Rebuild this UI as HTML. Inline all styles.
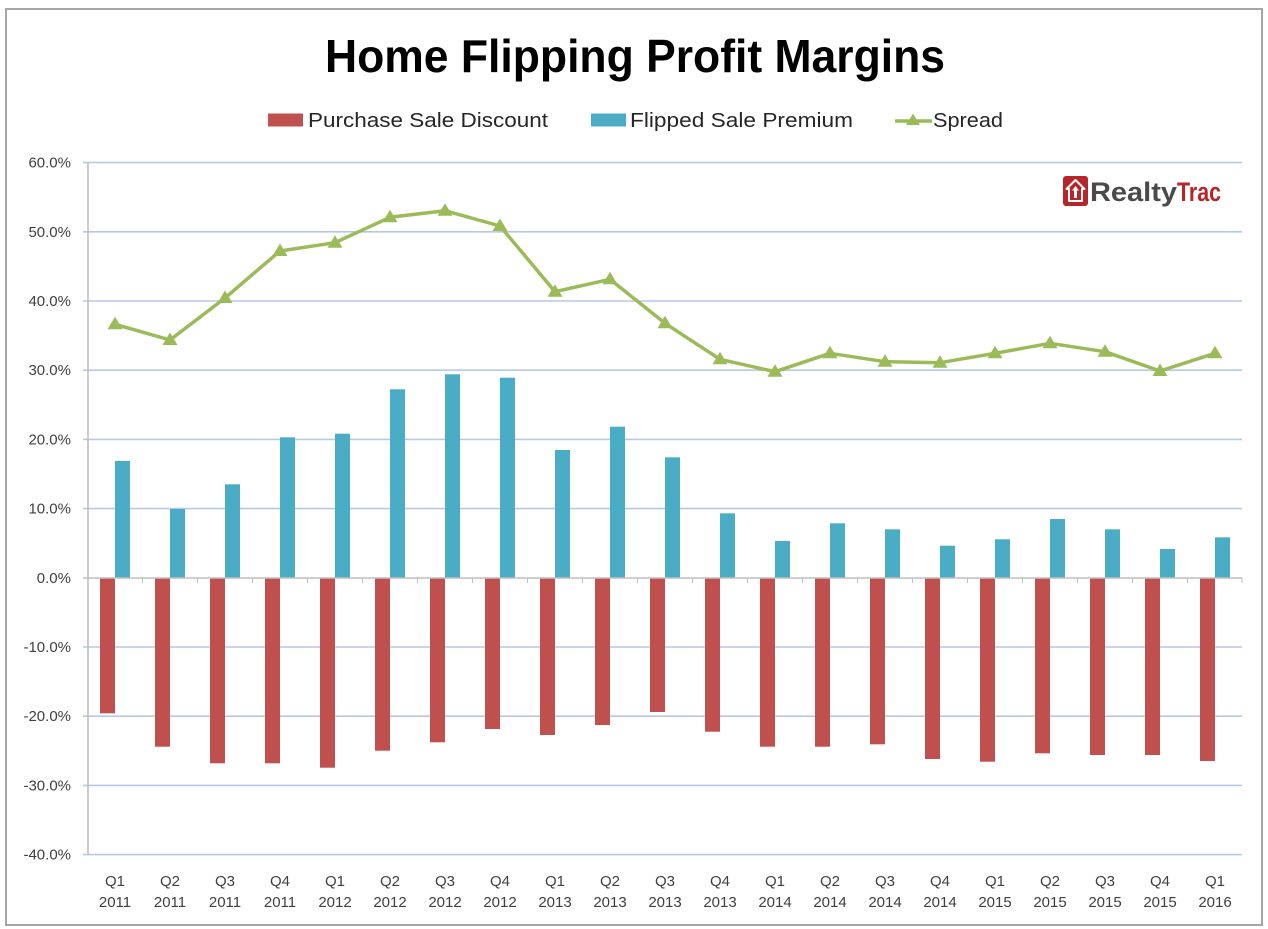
<!DOCTYPE html>
<html>
<head>
<meta charset="utf-8">
<style>
  html,body{margin:0;padding:0;background:#fff;}
  svg{display:block;}
  text{font-family:"Liberation Sans",Arial,sans-serif;}
</style>
</head>
<body>
<svg width="1268" height="929" viewBox="0 0 1268 929" xmlns="http://www.w3.org/2000/svg">
  <defs>
    <marker id="tri" markerWidth="16" markerHeight="16" refX="8" refY="8.5" markerUnits="userSpaceOnUse">
      <path d="M8,1 L15.5,13.5 L0.5,13.5 Z" fill="#9bbb59"/>
    </marker>
  </defs>
  <rect x="0" y="0" width="1268" height="929" fill="#fff"/>
  <!-- outer border -->
  <rect x="6" y="9" width="1256" height="916" fill="none" stroke="#a6a6a6" stroke-width="2"/>

  <!-- title -->
  <text x="635" y="72" text-anchor="middle" font-size="46" font-weight="bold" fill="#000" textLength="620" lengthAdjust="spacingAndGlyphs">Home Flipping Profit Margins</text>

  <!-- legend -->
  <rect x="268" y="113.5" width="35" height="13" fill="#c0504d"/>
  <text x="308" y="127" font-size="20" fill="#262626" textLength="240" lengthAdjust="spacingAndGlyphs">Purchase Sale Discount</text>
  <rect x="591" y="113.5" width="35" height="13" fill="#4bacc6"/>
  <text x="630" y="127" font-size="20" fill="#262626" textLength="223" lengthAdjust="spacingAndGlyphs">Flipped Sale Premium</text>
  <line x1="895" y1="121" x2="932" y2="121" stroke="#9bbb59" stroke-width="3.5"/>
  <path d="M913,113.5 L920,125 L906,125 Z" fill="#9bbb59"/>
  <text x="933" y="127" font-size="20" fill="#262626" textLength="70" lengthAdjust="spacingAndGlyphs">Spread</text>

  <!-- gridlines -->
  <g stroke="#b7c8e8" stroke-width="1.6">
    <line x1="83" y1="162.6" x2="1242" y2="162.6"/>
    <line x1="83" y1="231.8" x2="1242" y2="231.8"/>
    <line x1="83" y1="301" x2="1242" y2="301"/>
    <line x1="83" y1="370.2" x2="1242" y2="370.2"/>
    <line x1="83" y1="439.4" x2="1242" y2="439.4"/>
    <line x1="83" y1="508.6" x2="1242" y2="508.6"/>
    <line x1="83" y1="647" x2="1242" y2="647"/>
    <line x1="83" y1="716.2" x2="1242" y2="716.2"/>
    <line x1="83" y1="785.4" x2="1242" y2="785.4"/>
    <line x1="83" y1="854.6" x2="1242" y2="854.6"/>
  </g>

  <!-- y axis labels -->
  <g font-size="15" fill="#404040" text-anchor="end">
    <text x="71" y="167.6">60.0%</text>
    <text x="71" y="236.8">50.0%</text>
    <text x="71" y="306">40.0%</text>
    <text x="71" y="375.2">30.0%</text>
    <text x="71" y="444.4">20.0%</text>
    <text x="71" y="513.6">10.0%</text>
    <text x="71" y="582.8">0.0%</text>
    <text x="71" y="652">-10.0%</text>
    <text x="71" y="721.2">-20.0%</text>
    <text x="71" y="790.4">-30.0%</text>
    <text x="71" y="859.6">-40.0%</text>
  </g>

  <!-- blue bars -->
  <g fill="#4bacc6">
    <rect x="115" y="461" width="15" height="117"/>
    <rect x="170" y="509" width="15" height="69"/>
    <rect x="225" y="484.3" width="15" height="93.7"/>
    <rect x="280" y="437.3" width="15" height="140.7"/>
    <rect x="335" y="433.7" width="15" height="144.3"/>
    <rect x="390" y="389.3" width="15" height="188.7"/>
    <rect x="445" y="374.3" width="15" height="203.7"/>
    <rect x="500" y="377.7" width="15" height="200.3"/>
    <rect x="555" y="450" width="15" height="128"/>
    <rect x="610" y="426.7" width="15" height="151.3"/>
    <rect x="665" y="457.3" width="15" height="120.7"/>
    <rect x="720" y="513.3" width="15" height="64.7"/>
    <rect x="775" y="541" width="15" height="37"/>
    <rect x="830" y="523.3" width="15" height="54.7"/>
    <rect x="885" y="529.3" width="15" height="48.7"/>
    <rect x="940" y="545.7" width="15" height="32.3"/>
    <rect x="995" y="539.3" width="15" height="38.7"/>
    <rect x="1050" y="519" width="15" height="59"/>
    <rect x="1105" y="529.3" width="15" height="48.7"/>
    <rect x="1160" y="549" width="15" height="29"/>
    <rect x="1215" y="537.3" width="15" height="40.7"/>
  </g>

  <!-- red bars -->
  <g fill="#c0504d">
    <rect x="100" y="578" width="15" height="135.3"/>
    <rect x="155" y="578" width="15" height="168.7"/>
    <rect x="210" y="578" width="15" height="185.3"/>
    <rect x="265" y="578" width="15" height="185.3"/>
    <rect x="320" y="578" width="15" height="189.7"/>
    <rect x="375" y="578" width="15" height="172.7"/>
    <rect x="430" y="578" width="15" height="164.3"/>
    <rect x="485" y="578" width="15" height="151"/>
    <rect x="540" y="578" width="15" height="157"/>
    <rect x="595" y="578" width="15" height="147"/>
    <rect x="650" y="578" width="15" height="134"/>
    <rect x="705" y="578" width="15" height="153.7"/>
    <rect x="760" y="578" width="15" height="168.7"/>
    <rect x="815" y="578" width="15" height="168.7"/>
    <rect x="870" y="578" width="15" height="166.3"/>
    <rect x="925" y="578" width="15" height="181"/>
    <rect x="980" y="578" width="15" height="183.7"/>
    <rect x="1035" y="578" width="15" height="175.3"/>
    <rect x="1090" y="578" width="15" height="177"/>
    <rect x="1145" y="578" width="15" height="177"/>
    <rect x="1200" y="578" width="15" height="183"/>
  </g>

  <!-- axes -->
  <line x1="88" y1="162" x2="88" y2="855" stroke="#bfbfbf" stroke-width="1.6"/>
  <line x1="83" y1="578" x2="1242.5" y2="578" stroke="#bfbfbf" stroke-width="1.6"/>
  <g stroke="#bfbfbf" stroke-width="1">
    <line x1="142.5" y1="578" x2="142.5" y2="583"/>
    <line x1="197.5" y1="578" x2="197.5" y2="583"/>
    <line x1="252.5" y1="578" x2="252.5" y2="583"/>
    <line x1="307.5" y1="578" x2="307.5" y2="583"/>
    <line x1="362.5" y1="578" x2="362.5" y2="583"/>
    <line x1="417.5" y1="578" x2="417.5" y2="583"/>
    <line x1="472.5" y1="578" x2="472.5" y2="583"/>
    <line x1="527.5" y1="578" x2="527.5" y2="583"/>
    <line x1="582.5" y1="578" x2="582.5" y2="583"/>
    <line x1="637.5" y1="578" x2="637.5" y2="583"/>
    <line x1="692.5" y1="578" x2="692.5" y2="583"/>
    <line x1="747.5" y1="578" x2="747.5" y2="583"/>
    <line x1="802.5" y1="578" x2="802.5" y2="583"/>
    <line x1="857.5" y1="578" x2="857.5" y2="583"/>
    <line x1="912.5" y1="578" x2="912.5" y2="583"/>
    <line x1="967.5" y1="578" x2="967.5" y2="583"/>
    <line x1="1022.5" y1="578" x2="1022.5" y2="583"/>
    <line x1="1077.5" y1="578" x2="1077.5" y2="583"/>
    <line x1="1132.5" y1="578" x2="1132.5" y2="583"/>
    <line x1="1187.5" y1="578" x2="1187.5" y2="583"/>
    <line x1="1242" y1="578" x2="1242" y2="583"/>
  </g>

  <!-- spread line -->
  <polyline fill="none" stroke="#9bbb59" stroke-width="3.5" stroke-linejoin="round"
    marker-start="url(#tri)" marker-mid="url(#tri)" marker-end="url(#tri)"
    points="115,324.3 170,340 225,298 280,251 335,242.7 390,217.3 445,210.7 500,226 555,291.7 610,279.3 665,323.3 720,359.3 775,371.7 830,353.3 885,361.7 940,362.7 995,353.3 1050,343.3 1105,351.7 1160,371 1215,353.3"/>

  <!-- x labels -->
  <g font-size="15" fill="#404040" text-anchor="middle">
    <text x="115" y="886">Q1</text><text x="115" y="907">2011</text>
    <text x="170" y="886">Q2</text><text x="170" y="907">2011</text>
    <text x="225" y="886">Q3</text><text x="225" y="907">2011</text>
    <text x="280" y="886">Q4</text><text x="280" y="907">2011</text>
    <text x="335" y="886">Q1</text><text x="335" y="907">2012</text>
    <text x="390" y="886">Q2</text><text x="390" y="907">2012</text>
    <text x="445" y="886">Q3</text><text x="445" y="907">2012</text>
    <text x="500" y="886">Q4</text><text x="500" y="907">2012</text>
    <text x="555" y="886">Q1</text><text x="555" y="907">2013</text>
    <text x="610" y="886">Q2</text><text x="610" y="907">2013</text>
    <text x="665" y="886">Q3</text><text x="665" y="907">2013</text>
    <text x="720" y="886">Q4</text><text x="720" y="907">2013</text>
    <text x="775" y="886">Q1</text><text x="775" y="907">2014</text>
    <text x="830" y="886">Q2</text><text x="830" y="907">2014</text>
    <text x="885" y="886">Q3</text><text x="885" y="907">2014</text>
    <text x="940" y="886">Q4</text><text x="940" y="907">2014</text>
    <text x="995" y="886">Q1</text><text x="995" y="907">2015</text>
    <text x="1050" y="886">Q2</text><text x="1050" y="907">2015</text>
    <text x="1105" y="886">Q3</text><text x="1105" y="907">2015</text>
    <text x="1160" y="886">Q4</text><text x="1160" y="907">2015</text>
    <text x="1215" y="886">Q1</text><text x="1215" y="907">2016</text>
  </g>

  <!-- RealtyTrac logo -->
  <rect x="1063" y="176" width="25" height="30" rx="3" fill="#b5252a"/>
  <path d="M1075.5,180 L1084.5,189 L1082,189 L1082,201 L1069,201 L1069,189 L1066.5,189 Z" fill="none" stroke="#fff" stroke-width="2" stroke-linejoin="round"/>
  <path d="M1075.5,186 L1079,190.5 L1077,190.5 L1077,198 L1074,198 L1074,190.5 L1072,190.5 Z" fill="#fff"/>
  <text x="1090" y="201" font-size="27" font-weight="bold" fill="#4a4a4a" textLength="87" lengthAdjust="spacingAndGlyphs">Realty</text>
  <text x="1177" y="201" font-size="27" font-weight="bold" fill="#b5252a" textLength="44" lengthAdjust="spacingAndGlyphs">Trac</text>
</svg>
</body>
</html>
